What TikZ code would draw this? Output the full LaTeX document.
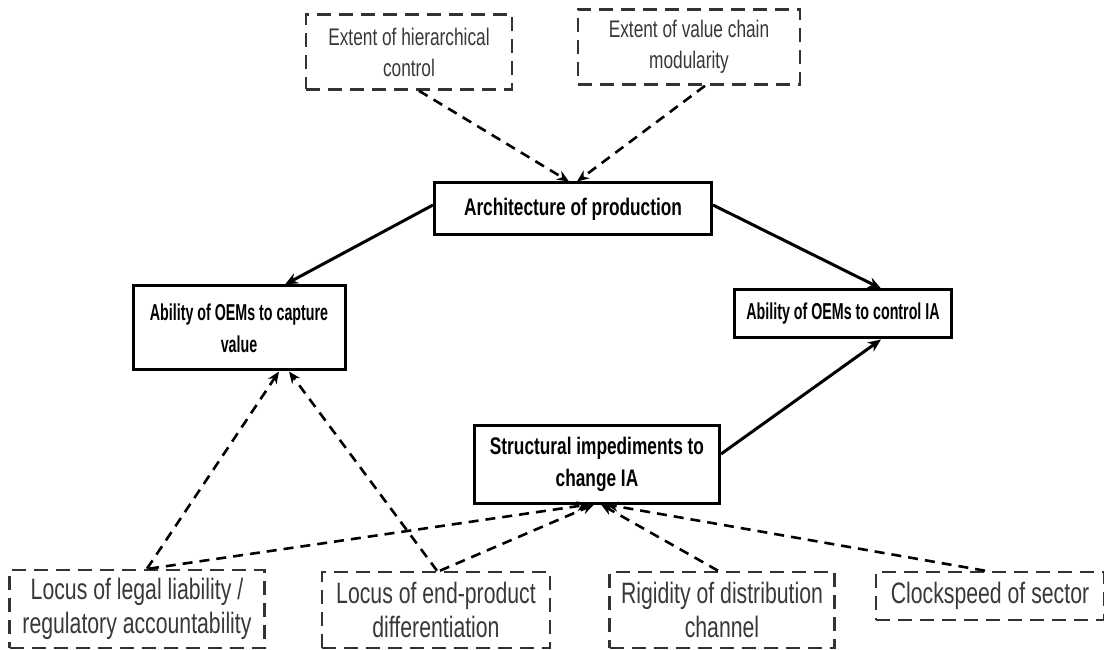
\documentclass[tikz,border=0pt]{standalone}
\usepackage{fontspec}
\setmainfont{Liberation Sans}[FakeStretch=0.72]
\newfontfamily\narrowfont{Liberation Sans}[FakeStretch=0.62]
\usetikzlibrary{arrows.meta}

\begin{document}
\begin{tikzpicture}[x=1pt,y=1pt,
		mainbox/.style={draw, line width=3pt, align=center, inner sep=0pt, font=\fontsize{24}{32}\selectfont\bfseries},
		outcome/.style={mainbox, font=\narrowfont\fontsize{23}{32}\selectfont\bfseries},
		factorbox/.style={draw=black!80, line width=2.6pt, dash pattern=on 14pt off 8pt, align=center, inner sep=0pt, text=black!78, font=\fontsize{24}{31}\selectfont},
		lowfactor/.style={factorbox, font=\fontsize{29.5}{34}\selectfont},
		link/.style={line width=3pt, -{Stealth[length=13pt,width=11pt]}},
		influence/.style={line width=2.6pt, dash pattern=on 10pt off 7pt, -{Stealth[length=12pt,width=10pt]}}]
		\useasboundingbox (0,0) rectangle (1104,649);

		% Top: drivers of the architecture
		\node[factorbox, minimum width=206pt, minimum height=75pt] (hier) at (409,597) {Extent of hierarchical\\control};
		\node[factorbox, minimum width=222pt, minimum height=75pt] (modul) at (689,602) {Extent of value chain\\modularity};

		% Middle: solid boxes
		\node[mainbox, minimum width=277pt, minimum height=52pt] (arch) at (573,440) {Architecture of production};
		\node[outcome, minimum width=212pt, minimum height=84pt] (capture) at (239,321) {Ability of OEMs to capture\\value};
		\node[outcome, minimum width=217pt, minimum height=48pt] (control) at (843,335) {Ability of OEMs to control IA};
		\node[mainbox, minimum width=245pt, minimum height=78pt] (impede) at (597,185) {Structural impediments to\\change IA};

		% Bottom: factors
		\node[lowfactor, minimum width=255pt, minimum height=78pt] (liab) at (137,40) {Locus of legal liability /\\regulatory accountability};
		\node[lowfactor, minimum width=228pt, minimum height=76pt] (diff) at (436,39) {Locus of end-product\\differentiation};
		\node[lowfactor, minimum width=225pt, minimum height=76pt] (rigid) at (722,39) {Rigidity of distribution\\channel};
		\node[lowfactor, minimum width=228pt, minimum height=48pt] (clock) at (990,53) {Clockspeed of sector};

		% Solid links
		\draw[link] ([yshift=4pt]arch.west) -- ([xshift=46pt]capture.north);
		\draw[link] ([yshift=4pt]arch.east) -- ([xshift=38pt]control.north);
		\draw[link] ([yshift=10pt]impede.east) -- ([xshift=38pt]control.south);

		% Dashed influences
		\draw[influence] ([xshift=10pt]hier.south) -- ([xshift=-4pt]arch.north);
		\draw[influence] ([xshift=16pt]modul.south) -- ([xshift=4pt]arch.north);
		\draw[influence] ([xshift=10pt]liab.north) -- ([xshift=40pt]capture.south);
		\draw[influence] ([xshift=1pt]diff.north) -- ([xshift=50pt]capture.south);
		\draw[influence] ([xshift=12pt]liab.north) -- ([xshift=-8pt]impede.south);
		\draw[influence] ([xshift=4pt]diff.north) -- ([xshift=-3pt]impede.south);
		\draw[influence] ([xshift=-4pt]rigid.north) -- ([xshift=4pt]impede.south);
		\draw[influence] ([xshift=-5pt]clock.north) -- ([xshift=9pt]impede.south);
	\end{tikzpicture}
\end{document}
